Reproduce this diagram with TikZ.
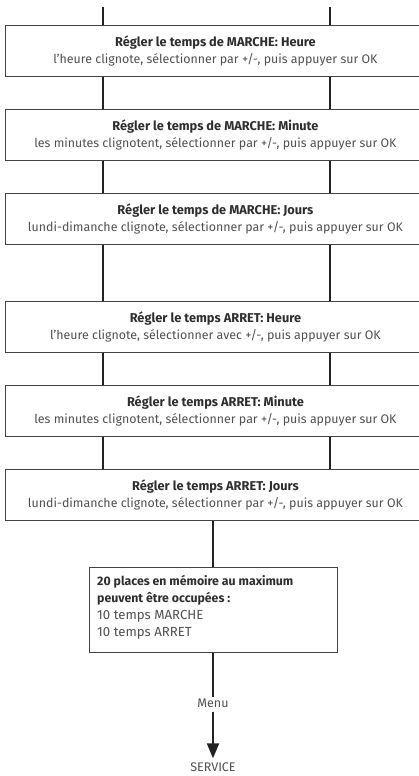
\documentclass[tikz,border=0pt]{standalone}
\usepackage{fontspec}
\setmainfont{Fira Sans}
\usetikzlibrary{arrows.meta}
\definecolor{tdark}{HTML}{2E2E2E}
\definecolor{tgrey}{HTML}{505050}
\definecolor{lcol}{HTML}{222222}
\tikzset{
  stepbox/.style={draw=lcol!85, line width=0.9pt, minimum width=420pt, minimum height=51pt,
    inner sep=0pt, anchor=north west, align=center, font=\fontsize{12.4}{16.5}\selectfont, text=tgrey},
  memobox/.style={draw=lcol!85, line width=0.9pt, minimum width=248pt, minimum height=85pt,
    inner sep=0pt, anchor=north west},
  conn/.style={draw=lcol, line width=1.8pt},
  lbl/.style={font=\fontsize{12.5}{13}\selectfont, text=tgrey, inner sep=1pt}
}
\newcommand{\ttl}[1]{{\fontsize{12.8}{16.5}\selectfont\bfseries\color{tdark}#1}}
\newcommand{\mttl}[1]{{\fontsize{12.3}{17}\selectfont\bfseries\color{tdark}#1}}
\begin{document}
\begin{tikzpicture}[x=1pt,y=-1pt]
\useasboundingbox (0,0) rectangle (419,776);
\coordinate (L) at (103,0);
\coordinate (R) at (330,0);
\coordinate (C) at (213,0);
\coordinate (tL) at (103,7);
\coordinate (tR) at (330,7);

\node[stepbox] (b1) at (5,25) {\ttl{Régler le temps de MARCHE: Heure}\\l’heure clignote, sélectionner par +/-, puis appuyer sur OK};
\node[stepbox] (b2) at (5,109) {\ttl{Régler le temps de MARCHE: Minute}\\les minutes clignotent, sélectionner par +/-, puis appuyer sur OK};
\node[stepbox] (b3) at (5,193) {\ttl{Régler le temps de MARCHE: Jours}\\lundi-dimanche clignote, sélectionner par +/-, puis appuyer sur OK};
\node[stepbox] (b4) at (5,301) {\ttl{Régler le temps ARRET: Heure}\\l’heure clignote, sélectionner avec +/-, puis appuyer sur OK};
\node[stepbox] (b5) at (5,385) {\ttl{Régler le temps ARRET: Minute}\\les minutes clignotent, sélectionner par +/-, puis appuyer sur OK};
\node[stepbox] (b6) at (5,469) {\ttl{Régler le temps ARRET: Jours}\\lundi-dimanche clignote, sélectionner par +/-, puis appuyer sur OK};

\node[memobox] (b7) at (89,567) {};
\node[anchor=north west, inner sep=0pt, align=left, text=tgrey,
      font=\fontsize{13.2}{17}\selectfont] (t7) at ([xshift=8pt,yshift=-8pt]b7.north west)
  {\mttl{20 places en mémoire au maximum}\\\mttl{peuvent être occupées :}\\10 temps MARCHE\\10 temps ARRET};

\draw[conn] (tL) -- (b1.north -| L);
\draw[conn] (tR) -- (b1.north -| R);
\foreach \a/\b in {b1/b2,b2/b3,b3/b4,b4/b5,b5/b6}{
  \draw[conn] (\a.south -| L) -- (\b.north -| L);
  \draw[conn] (\a.south -| R) -- (\b.north -| R);
}
\draw[conn] (b6.south -| C) -- (b7.north -| C);

\node[lbl] (menu) at (213,703) {Menu};
\node[lbl] (service) at (213,767) {SERVICE};
\draw[conn] (b7.south -| C) -- (menu.north);
\draw[conn, -{Triangle[width=12pt,length=15pt]}] ([yshift=-3pt]menu.south) -- ([yshift=3pt]service.north);
\end{tikzpicture}
\end{document}
